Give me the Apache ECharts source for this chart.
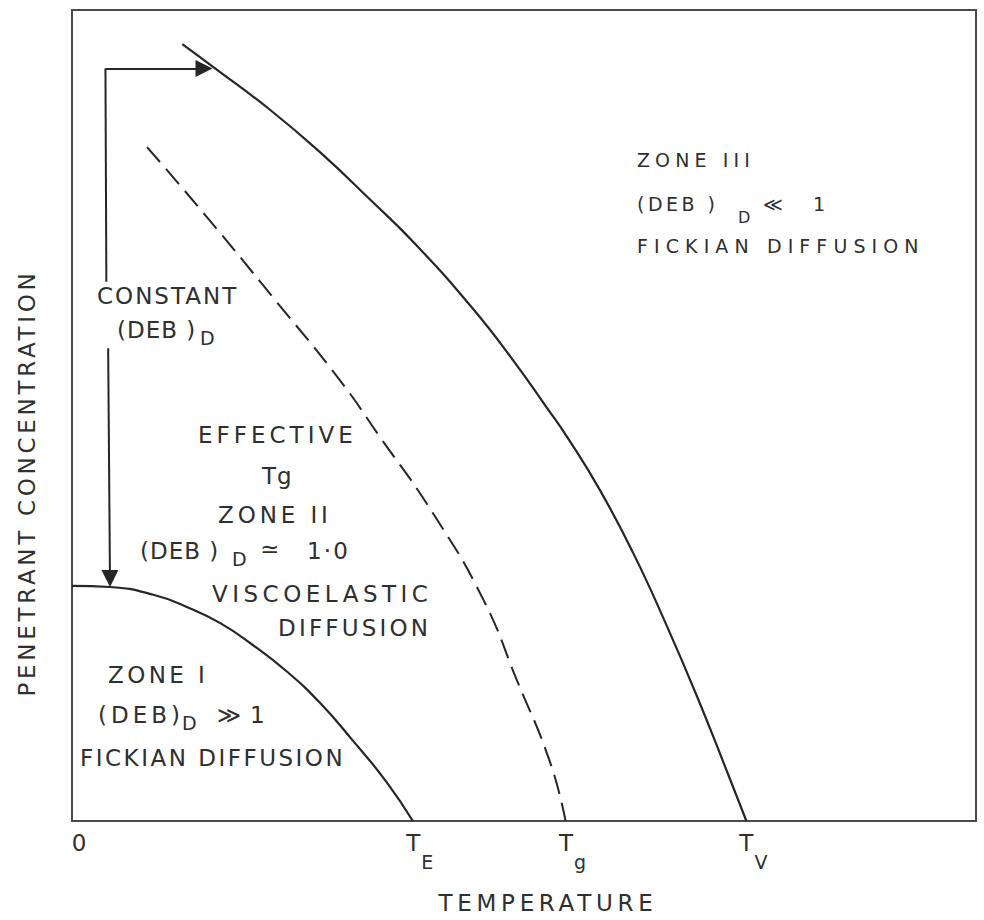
<!DOCTYPE html>
<html>
<head>
<meta charset="utf-8">
<script src="https://cdn.jsdelivr.net/npm/echarts@6/dist/echarts.min.js"></script>
<style>
  html, body { margin: 0; padding: 0; background: #ffffff; }
  #chart { width: 984px; height: 920px; }
</style>
</head>
<body>
<div id="chart"></div>
<script>
// Temperature axis: position of each marked temperature on a 0–100 scale
const tickValues = [0, 37.7, 54.6, 74.6];
const tickMain   = ['0', 'T', 'T', 'T'];
const tickSub    = ['',  'E', 'g', 'V'];

// Zone I / Zone II boundary (solid), meets the axis at T_E
const zoneIBoundaryX = [0, 4.2, 9.0, 12.7, 16.4, 20.0, 23.8, 27.4, 31.0, 34.8, 37.7];
const zoneIBoundaryY = [29.0, 28.85, 27.9, 26.4, 24.4, 21.7, 18.4, 14.6, 10.0, 4.8, 0];

// Effective Tg curve (dashed), meets the axis at Tg
const effectiveTgX = [8.3, 14.9, 22.2, 29.6, 34.1, 39.9, 45.5, 49.2, 52.9, 54.6];
const effectiveTgY = [83.1, 74.5, 64.6, 54.4, 47.3, 38.0, 27.3, 17.4, 7.2, 0];

// Zone II / Zone III boundary (solid), meets the axis at T_V
const zoneIIIBoundaryX = [12.2, 15.6, 21.9, 27.4, 33.0, 38.1, 44.4, 48.8, 52.5, 54.8, 58.4, 62.1, 65.7, 69.2, 72.6, 74.6];
const zoneIIIBoundaryY = [95.8, 93.0, 87.7, 82.5, 76.6, 71.0, 63.1, 56.8, 51.0, 47.3, 40.8, 33.0, 24.3, 15.2, 5.7, 0];

// "Constant (DEB)_D" path: corner, right turn to the Zone III boundary, drop to the Zone I boundary
const arrowCorner     = [3.7, 92.8];
const arrowRightEnd   = [14.6, 92.8];
const arrowUpperStop  = [3.8, 66.5];
const arrowLowerStart = [4.0, 58.3];
const arrowDownEnd    = [4.2, 29.9];

const pair = (xs, ys) => xs.map((x, i) => [x, ys[i]]);

const FONT = "'DejaVu Sans', sans-serif";
const INK = '#2f2f2f';

// Extra tracking for the stencil-style lettering (px), keyed by text or text@size
const SPACING = {
  'TEMPERATURE': 4.7,
  'PENETRANT CONCENTRATION': 3.7,
  'CONSTANT': 2,
  '(DEB )@23': 1,
  '(DEB)': 4,
  'EFFECTIVE': 4,
  'Tg': 1,
  'ZONE II': 3.9,
  '1·0': 2.2,
  'VISCOELASTIC': 4.5,
  'DIFFUSION': 3.2,
  'ZONE I': 3.4,
  'FICKIAN DIFFUSION@23': 2.5,
  'FICKIAN DIFFUSION@19': 6.1,
  'ZONE III': 5.1,
  '(DEB )@19': 3.5
};

function label(text, x, y, size) {
  return {
    type: 'text', x: x, y: y, silent: true,
    style: {
      text: text, fill: INK, fontFamily: FONT, fontSize: size,
      align: 'left', verticalAlign: 'middle',
      textAlign: 'left', textVerticalAlign: 'middle'
    }
  };
}

const graphics = [
  // Zone III
  label('ZONE III', 637, 160, 19),
  label('(DEB )', 637, 204, 19),
  label('D', 738, 217, 16),
  label('≪', 763, 204, 19),
  label('1', 813, 204, 19),
  label('FICKIAN DIFFUSION', 637, 246, 19),
  // constant Deborah number path
  label('CONSTANT', 97, 296, 23),
  label('(DEB )', 117, 330, 23),
  label('D', 200, 338, 19),
  // Zone II
  label('EFFECTIVE', 198, 435, 23),
  label('Tg', 262, 476, 23),
  label('ZONE II', 218, 515, 23),
  label('(DEB )', 140, 551, 23),
  label('D', 232, 559, 19),
  label('≃', 260, 549, 23),
  label('1·0', 307, 551, 23),
  label('VISCOELASTIC', 212, 594, 23),
  label('DIFFUSION', 278, 628, 23),
  // Zone I
  label('ZONE I', 108, 675, 23),
  label('(DEB)', 98, 715, 23),
  label('D', 182, 723, 19),
  label('≫', 217, 715, 23),
  label('1', 250, 715, 23),
  label('FICKIAN DIFFUSION', 80, 758, 23),
  // axis titles
  {
    type: 'text', x: 548, y: 903, silent: true,
    style: { text: 'TEMPERATURE', fill: INK, fontFamily: FONT, fontSize: 23,
      align: 'center', verticalAlign: 'middle', textAlign: 'center', textVerticalAlign: 'middle' }
  },
  {
    type: 'text', x: 27, y: 483, rotation: Math.PI / 2, silent: true,
    style: { text: 'PENETRANT CONCENTRATION', fill: INK, fontFamily: FONT, fontSize: 23,
      align: 'center', verticalAlign: 'middle', textAlign: 'center', textVerticalAlign: 'middle' }
  }
];

const chartDom = document.getElementById('chart');
const chart = echarts.init(chartDom, null, { renderer: 'svg', width: 984, height: 920 });

function applyLetterSpacing() {
  chartDom.querySelectorAll('text').forEach(function (el) {
    const txt = el.textContent;
    const fs = Math.round(parseFloat(getComputedStyle(el).fontSize));
    const s = SPACING[txt + '@' + fs] != null ? SPACING[txt + '@' + fs] : SPACING[txt];
    if (s != null) el.setAttribute('letter-spacing', s);
  });
}
chart.on('finished', applyLetterSpacing);

const curveStyle = { color: '#262626', width: 2.2 };

chart.setOption({
  animation: false,
  backgroundColor: '#ffffff',
  grid: {
    left: 72, right: 8, top: 10, bottom: 99,
    show: true, borderColor: '#4a4a4a', borderWidth: 2, backgroundColor: 'transparent'
  },
  xAxis: {
    type: 'value', min: 0, max: 100,
    axisLine: { show: false }, axisTick: { show: false }, splitLine: { show: false },
    axisLabel: {
      customValues: tickValues,
      margin: 10,
      padding: [0, 0, 0, 14],
      fontFamily: FONT,
      color: INK,
      formatter: function (v) {
        const i = tickValues.indexOf(v);
        if (i < 0) return '';
        return tickSub[i] ? '{t|' + tickMain[i] + '}{s|' + tickSub[i] + '}' : '{t|' + tickMain[i] + '}';
      },
      rich: {
        t: { fontSize: 23, lineHeight: 23, verticalAlign: 'top', fontFamily: FONT, color: INK },
        s: { fontSize: 19, lineHeight: 19, verticalAlign: 'top', padding: [21, 0, 0, 1], fontFamily: FONT, color: INK }
      }
    }
  },
  yAxis: {
    type: 'value', min: 0, max: 100,
    axisLine: { show: false }, axisTick: { show: false }, splitLine: { show: false },
    axisLabel: { show: false }
  },
  graphic: graphics,
  series: [
    {
      name: 'Zone I boundary', type: 'line', data: pair(zoneIBoundaryX, zoneIBoundaryY),
      smooth: 0.5, showSymbol: false, symbol: 'none', silent: true,
      lineStyle: curveStyle
    },
    {
      name: 'Effective Tg', type: 'line', data: pair(effectiveTgX, effectiveTgY),
      smooth: 0.5, showSymbol: false, symbol: 'none', silent: true,
      lineStyle: { color: '#262626', width: 2, type: [20, 9] }
    },
    {
      name: 'Zone III boundary', type: 'line', data: pair(zoneIIIBoundaryX, zoneIIIBoundaryY),
      smooth: 0.5, showSymbol: false, symbol: 'none', silent: true,
      lineStyle: curveStyle
    },
    {
      name: 'Constant DEB arrows', type: 'lines', coordinateSystem: 'cartesian2d', silent: true,
      symbol: ['none', 'triangle'], symbolSize: 17,
      lineStyle: { color: '#262626', width: 2, opacity: 1, curveness: 0 },
      itemStyle: { color: '#262626' },
      data: [
        { coords: [arrowCorner, arrowRightEnd] },
        { coords: [arrowLowerStart, arrowDownEnd] }
      ]
    },
    {
      name: 'Constant DEB path', type: 'lines', coordinateSystem: 'cartesian2d', silent: true,
      symbol: ['none', 'none'],
      lineStyle: { color: '#262626', width: 2, opacity: 1, curveness: 0 },
      data: [ { coords: [arrowCorner, arrowUpperStop] } ]
    }
  ]
});
setTimeout(applyLetterSpacing, 50);
</script>
</body>
</html>
